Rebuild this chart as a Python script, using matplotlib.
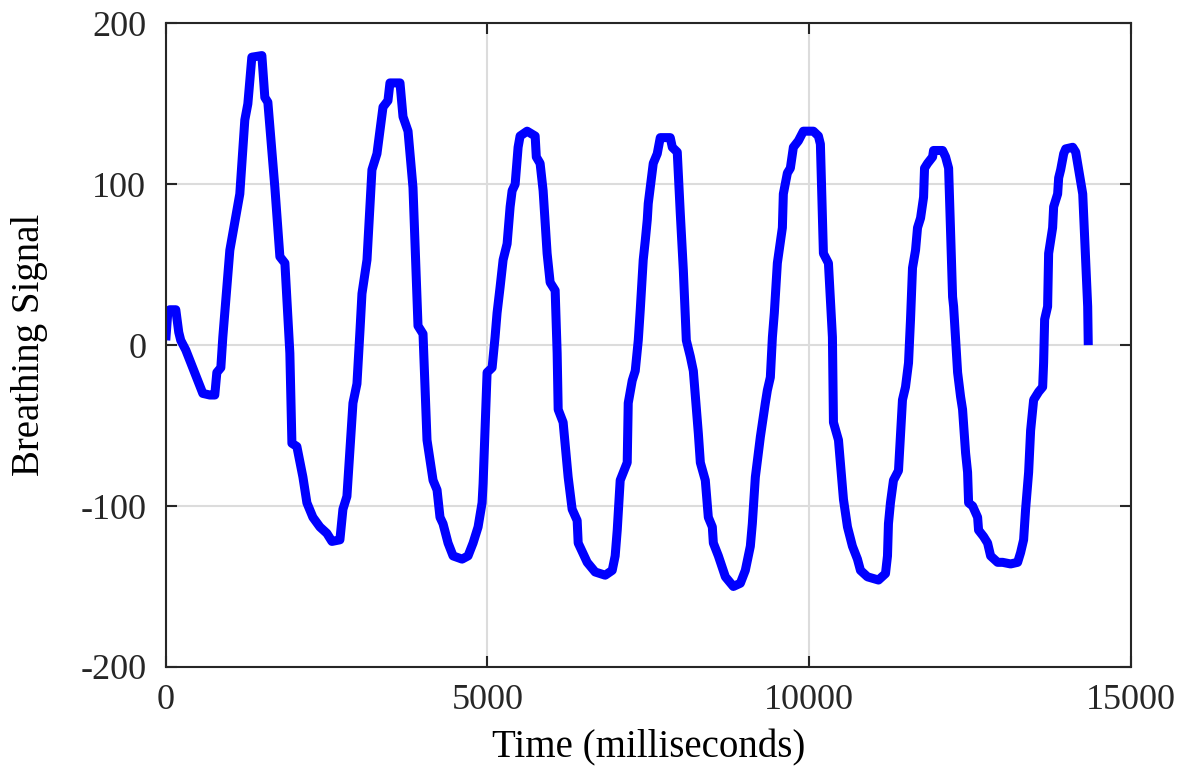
import numpy as np
import matplotlib
matplotlib.use("Agg")
from matplotlib import pyplot as plt

# breathing signal (time in ms, signal value)
# ten points per row, rows of both lists line up
time_ms = [0, 31, 62, 156, 202, 233, 311, 576, 685, 762,
           794, 856, 887, 996, 1151, 1229, 1276, 1338, 1494, 1540,
           1587, 1696, 1774, 1852, 1929, 1961, 2038, 2132, 2194, 2287,
           2396, 2505, 2583, 2707, 2754, 2816, 2910, 2972, 3019, 3050,
           3128, 3205, 3283, 3377, 3454, 3485, 3641, 3688, 3766, 3843,
           3921, 3999, 4061, 4155, 4217, 4263, 4310, 4388, 4466, 4606,
           4699, 4777, 4855, 4917, 4933, 4995, 5073, 5119, 5150, 5197,
           5244, 5306, 5353, 5384, 5431, 5477, 5508, 5617, 5742, 5760,
           5819, 5866, 5928, 5975, 6053, 6084, 6100, 6177, 6255, 6317,
           6395, 6411, 6551, 6675, 6831, 6940, 6986, 7018, 7064, 7173,
           7189, 7251, 7298, 7329, 7345, 7376, 7422, 7454, 7485, 7500,
           7578, 7640, 7687, 7842, 7874, 7951, 7998, 8045, 8092, 8154,
           8201, 8279, 8310, 8387, 8434, 8496, 8512, 8590, 8699, 8823,
           8932, 9009, 9087, 9118, 9165, 9243, 9320, 9352, 9398, 9430,
           9460, 9507, 9585, 9600, 9663, 9709, 9756, 9834, 9912, 10067,
           10145, 10176, 10223, 10301, 10363, 10379, 10457, 10535, 10597, 10674,
           10752, 10799, 10908, 11079, 11188, 11219, 11234, 11265, 11312, 11390,
           11452, 11499, 11546, 11577, 11608, 11655, 11686, 11733, 11780, 11795,
           11842, 11920, 11935, 12075, 12122, 12169, 12231, 12247, 12309, 12355,
           12386, 12433, 12464, 12480, 12542, 12620, 12635, 12713, 12775, 12822,
           12931, 13008, 13133, 13242, 13288, 13335, 13366, 13413, 13444, 13491,
           13569, 13631, 13646, 13662, 13708, 13724, 13786, 13802, 13864, 13880,
           13911, 13958, 13989, 14098, 14145, 14191, 14254, 14300, 14331, 14340]

signal = [3, 20, 22, 22, 8, 3, -3, -30, -31, -31,
          -17, -14, 5, 59, 94, 140, 150, 179, 180, 154,
          151, 98, 55, 51, -5, -61, -63, -82, -98, -107,
          -113, -117, -122, -121, -102, -94, -36, -24, 9, 32,
          53, 109, 119, 148, 152, 163, 163, 142, 133, 98,
          12, 7, -59, -84, -90, -107, -111, -123, -131, -133,
          -131, -123, -113, -98, -86, -17, -14, 5, 20, 36,
          53, 63, 86, 96, 100, 123, 130, 133, 130, 117,
          113, 96, 57, 39, 34, -5, -40, -48, -82, -102,
          -109, -123, -135, -141, -143, -140, -131, -115, -84, -73,
          -36, -22, -16, -3, 3, 22, 53, 65, 78, 88,
          113, 119, 129, 129, 123, 120, 82, 47, 3, -7,
          -16, -55, -73, -84, -107, -113, -123, -131, -144, -150,
          -148, -140, -125, -111, -82, -57, -36, -28, -20, 5,
          20, 51, 73, 94, 107, 110, 123, 127, 133, 133,
          130, 125, 57, 51, 5, -48, -59, -96, -113, -125,
          -133, -140, -144, -146, -142, -131, -111, -98, -84, -78,
          -34, -26, -11, 16, 48, 59, 73, 79, 92, 110,
          113, 117, 121, 121, 117, 110, 30, 24, -17, -32,
          -40, -67, -79, -98, -100, -107, -115, -119, -123, -131,
          -135, -135, -136, -135, -129, -121, -102, -79, -53, -34,
          -29, -26, -11, 16, 24, 57, 73, 86, 94, 104,
          109, 119, 122, 123, 120, 109, 94, 53, 24, 0]

plt.rcParams['font.family'] = ['Liberation Serif', 'DejaVu Serif']
plt.rcParams['axes.unicode_minus'] = False

fig = plt.figure(figsize=(11.84, 7.8), dpi=100)
ax = fig.add_axes([0.140, 0.145, 0.815, 0.825])

ax.plot(time_ms, signal, color="#0000FF", linewidth=6.5, solid_joinstyle="round",
        solid_capstyle="butt")

ax.set_xlim(0, 15000)
ax.set_ylim(-200, 200)
ax.set_xticks([0, 5000, 10000, 15000])
ax.set_yticks([-200, -100, 0, 100, 200])
ax.grid(True, color="#DCDCDC", linewidth=1.5)
ax.set_axisbelow(True)

ax.tick_params(direction="in", length=8, width=1.5, top=True, right=True,
               labelsize=26, colors="#262626", labelcolor="#262626")
ax.tick_params(axis="x", pad=12)
ax.tick_params(axis="y", pad=14)
for s in ax.spines.values():
    s.set_linewidth(1.5)
    s.set_color("#262626")

ax.set_xlabel("Time (milliseconds)", fontsize=28, labelpad=9)
ax.set_ylabel("Breathing Signal", fontsize=28)
ax.yaxis.set_label_coords(-0.122, 0.5)

fig.savefig("out.png", dpi=100)
